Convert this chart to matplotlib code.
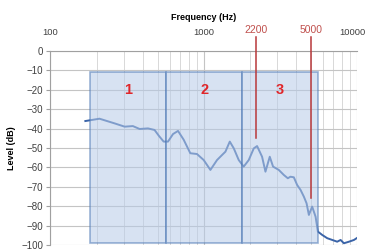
import matplotlib
matplotlib.use("Agg")
import matplotlib.pyplot as plt
import matplotlib.transforms as mtransforms
from matplotlib.patches import Rectangle
from matplotlib.ticker import FixedLocator, NullFormatter

plt.rcParams['font.family'] = ['Liberation Sans', 'DejaVu Sans']

# spectrum
freq = [169, 209, 262, 305, 345, 382, 433, 478, 511, 548, 585, 631, 680, 740,
        818, 904, 1000, 1106, 1222, 1318, 1386, 1480, 1572, 1693, 1824, 1968,
        2122, 2230, 2404, 2529, 2698, 2836, 3090, 3333, 3540, 3680, 3873, 4074,
        4285, 4505, 4690, 4856, 5100, 5370, 5560, 5930, 6400, 6900, 7430, 7820,
        8220, 8870, 9560, 9950]
level = [-36.1, -34.9, -37.3, -39.0, -38.7, -40.2, -39.9, -40.7, -43.8, -46.7,
         -46.7, -42.8, -41.2, -45.7, -52.7, -53.1, -56.2, -61.3, -56.2, -53.6,
         -51.9, -46.7, -50.2, -56.2, -59.6, -56.2, -50.2, -49.0, -54.5, -62.2,
         -54.5, -59.6, -61.3, -63.9, -65.6, -64.8, -65.1, -69.1, -71.6, -75.1,
         -78.5, -84.5, -80.2, -85.4, -93.1, -94.8, -96.5, -97.4, -98.3, -97.4,
         -99.1, -98.3, -97.4, -96.5]

# band edges (Hz) and their labels
band_edges = [180, 570, 1780, 5580]
band_labels = ['1', '2', '3']
band_top, band_bottom = -11, -99

marker_freqs = [2200, 5000]
marker_levels = [-45, -76]

fig = plt.figure(figsize=(3.68, 2.5), dpi=100)
ax = fig.add_axes([0.137, 0.02, 0.833, 0.776])

ax.plot(freq, level, color='#3b64a8', lw=1.4, zorder=2)

for i, lab in enumerate(band_labels):
    lo, hi = band_edges[i], band_edges[i + 1]
    ax.add_patch(Rectangle((lo, band_bottom), hi - lo, band_top - band_bottom,
                           facecolor='#b7cbe8', alpha=0.55, edgecolor='#4a76b4',
                           lw=1.2, zorder=3))
    mid = (lo * hi) ** 0.5
    ax.text(mid, -20, lab, color='#e0262a', fontsize=10.5, fontweight='bold',
            ha='center', va='center', zorder=5)

for f, lv in zip(marker_freqs, marker_levels):
    ax.plot([f, f], [7, lv], color='#b8383a', lw=1.1, zorder=4, clip_on=False)
    ax.text(f, 8, str(f), color='#c0504d', fontsize=7.5, ha='center',
            va='bottom')

ax.set_xscale('log')
ax.set_xlim(100, 10000)
ax.set_ylim(-100, 0)
ax.xaxis.tick_top()
ax.xaxis.set_label_position('top')
ax.set_xticks([100, 1000, 10000])
ax.set_xticklabels(['100', '1000', '10000'])
ax.xaxis.set_minor_locator(FixedLocator(
    [m * d for d in (100, 1000) for m in range(2, 10)]))
ax.xaxis.set_minor_formatter(NullFormatter())
ax.tick_params(axis='x', which='both', length=0, pad=10, labelsize=6.8,
               colors='#404040')
ax.set_xlabel('Frequency (Hz)', fontsize=6.5, fontweight='bold', labelpad=6)

# nudge the last label left so it stays inside the figure
last = ax.get_xticklabels()[-1]
last.set_transform(last.get_transform() +
                   mtransforms.ScaledTranslation(-3 / 72, 0, fig.dpi_scale_trans))

ax.set_yticks(range(-100, 1, 10))
ax.tick_params(axis='y', length=3, width=0.8, color='#a0a0a0', labelsize=7,
               labelcolor='#404040', pad=2)
ax.set_ylabel('Level (dB)', fontsize=6.5, fontweight='bold', labelpad=4)

ax.grid(True, which='major', color='#c4c4c4', lw=0.8, zorder=0)
ax.grid(True, which='minor', axis='x', color='#d8d8d8', lw=0.7, zorder=0)
ax.set_axisbelow(True)
for s in ('right', 'bottom'):
    ax.spines[s].set_visible(False)
for s in ('top', 'left'):
    ax.spines[s].set_color('#a0a0a0')
    ax.spines[s].set_linewidth(0.8)

fig.savefig('out.png', dpi=100)
